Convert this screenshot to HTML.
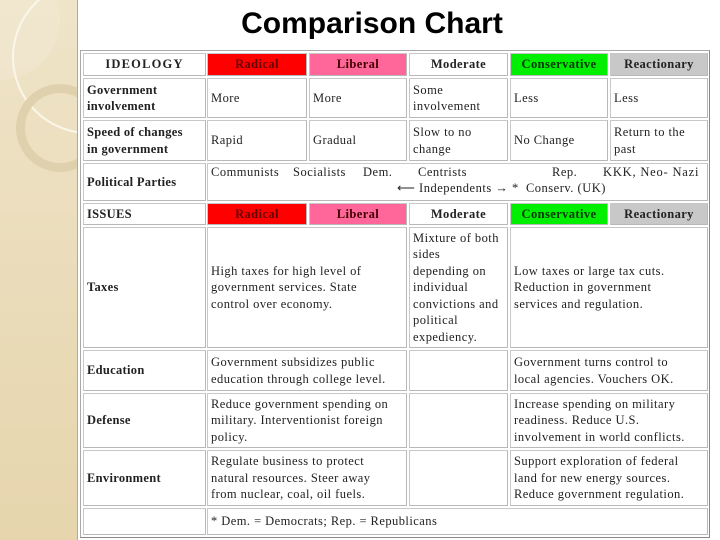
<!DOCTYPE html>
<html><head><meta charset="utf-8"><style>
body{margin:0;width:720px;height:540px;position:relative;background:#fff;overflow:hidden;font-family:"Liberation Serif",serif;}
#side{position:absolute;left:0;top:0;width:77px;height:540px;background:linear-gradient(#efe4c8,#e6d5ad);border-right:1px solid #b9a989;overflow:hidden}
.ring{position:absolute;border-radius:50%;}
#title{position:absolute;left:172px;top:7px;width:400px;text-align:center;font:bold 30px "Liberation Sans",sans-serif;color:#000}
#tbl{position:absolute;left:80px;top:50px;width:630px;height:488px;border:1px solid #aaa;border-right-color:#888;border-bottom-color:#888;box-sizing:border-box}
.c{position:absolute;box-sizing:border-box;border:1px solid #b8b8b8;border-top-color:#c8c8c8;border-left-color:#c8c8c8;font-size:12.5px;letter-spacing:0.45px;line-height:16.4px;padding:0 3px;color:#222;display:flex;align-items:center;background:#fff}
.b{font-weight:bold;letter-spacing:0.3px}
.h{justify-content:center;font-weight:bold;font-size:12.5px;letter-spacing:0.4px}
.p{position:absolute;white-space:pre;font-size:12.5px;letter-spacing:0.5px;color:#222;line-height:16px}
</style></head><body>
<div id="side">
<div class="ring" style="left:-60px;top:-40px;width:120px;height:120px;background:#f1e8d2;opacity:.6"></div>
<div class="ring" style="left:12px;top:-20px;width:150px;height:150px;border:2px solid #fbf6ea"></div>
<div class="ring" style="left:16px;top:84px;width:70px;height:70px;border:9px solid #e0d1ae"></div>
</div>
<div id="title">Comparison Chart</div>
<div id="tbl"></div>

<div class="c h" style="left:83px;top:53px;width:123px;height:23px;letter-spacing:1.2px">IDEOLOGY</div>
<div class="c h" style="left:207px;top:53px;width:100px;height:23px;background:#ff0000;color:#600">Radical</div>
<div class="c h" style="left:309px;top:53px;width:98px;height:23px;background:#ff6699;color:#400">Liberal</div>
<div class="c h" style="left:409px;top:53px;width:99px;height:23px">Moderate</div>
<div class="c h" style="left:510px;top:53px;width:98px;height:23px;background:#00ee00;color:#030">Conservative</div>
<div class="c h" style="left:610px;top:53px;width:98px;height:23px;background:#c8c8c8">Reactionary</div>

<div class="c b" style="left:83px;top:78px;width:123px;height:40px">Government<br>involvement</div>
<div class="c" style="left:207px;top:78px;width:100px;height:40px">More</div>
<div class="c" style="left:309px;top:78px;width:98px;height:40px">More</div>
<div class="c" style="left:409px;top:78px;width:99px;height:40px">Some<br>involvement</div>
<div class="c" style="left:510px;top:78px;width:98px;height:40px">Less</div>
<div class="c" style="left:610px;top:78px;width:98px;height:40px">Less</div>

<div class="c b" style="left:83px;top:120px;width:123px;height:41px">Speed of changes<br>in government</div>
<div class="c" style="left:207px;top:120px;width:100px;height:41px">Rapid</div>
<div class="c" style="left:309px;top:120px;width:98px;height:41px">Gradual</div>
<div class="c" style="left:409px;top:120px;width:99px;height:41px">Slow to no<br>change</div>
<div class="c" style="left:510px;top:120px;width:98px;height:41px">No Change</div>
<div class="c" style="left:610px;top:120px;width:98px;height:41px">Return to the<br>past</div>

<div class="c b" style="left:83px;top:163px;width:123px;height:38px">Political Parties</div>
<div class="c" style="left:207px;top:163px;width:501px;height:38px"></div>
<span class="p" style="left:211px;top:164px">Communists</span>
<span class="p" style="left:293px;top:164px">Socialists</span>
<span class="p" style="left:363px;top:164px">Dem.</span>
<span class="p" style="left:418px;top:164px">Centrists</span>
<span class="p" style="left:552px;top:164px">Rep.</span>
<span class="p" style="left:603px;top:164px;letter-spacing:0.8px">KKK, Neo- Nazi</span>
<span class="p" style="left:397px;top:180px">⟵ Independents → *  Conserv. (UK)</span>

<div class="c b" style="left:83px;top:203px;width:123px;height:22px">ISSUES</div>
<div class="c h" style="left:207px;top:203px;width:100px;height:22px;background:#ff0000;color:#600">Radical</div>
<div class="c h" style="left:309px;top:203px;width:98px;height:22px;background:#ff6699;color:#400">Liberal</div>
<div class="c h" style="left:409px;top:203px;width:99px;height:22px">Moderate</div>
<div class="c h" style="left:510px;top:203px;width:98px;height:22px;background:#00ee00;color:#030">Conservative</div>
<div class="c h" style="left:610px;top:203px;width:98px;height:22px;background:#c8c8c8">Reactionary</div>

<div class="c b" style="left:83px;top:227px;width:123px;height:121px">Taxes</div>
<div class="c" style="left:207px;top:227px;width:200px;height:121px">High taxes for high level of<br>government services. State<br>control over economy.</div>
<div class="c" style="left:409px;top:227px;width:99px;height:121px">Mixture of both<br>sides<br>depending on<br>individual<br>convictions and<br>political<br>expediency.</div>
<div class="c" style="left:510px;top:227px;width:198px;height:121px">Low taxes or large tax cuts.<br>Reduction in government<br>services and regulation.</div>

<div class="c b" style="left:83px;top:350px;width:123px;height:41px">Education</div>
<div class="c" style="left:207px;top:350px;width:200px;height:41px">Government subsidizes public<br>education through college level.</div>
<div class="c" style="left:409px;top:350px;width:99px;height:41px"></div>
<div class="c" style="left:510px;top:350px;width:198px;height:41px">Government turns control to<br>local agencies. Vouchers OK.</div>

<div class="c b" style="left:83px;top:393px;width:123px;height:55px">Defense</div>
<div class="c" style="left:207px;top:393px;width:200px;height:55px">Reduce government spending on<br>military. Interventionist foreign<br>policy.</div>
<div class="c" style="left:409px;top:393px;width:99px;height:55px"></div>
<div class="c" style="left:510px;top:393px;width:198px;height:55px">Increase spending on military<br>readiness. Reduce U.S.<br>involvement in world conflicts.</div>

<div class="c b" style="left:83px;top:450px;width:123px;height:56px">Environment</div>
<div class="c" style="left:207px;top:450px;width:200px;height:56px">Regulate business to protect<br>natural resources. Steer away<br>from nuclear, coal, oil fuels.</div>
<div class="c" style="left:409px;top:450px;width:99px;height:56px"></div>
<div class="c" style="left:510px;top:450px;width:198px;height:56px">Support exploration of federal<br>land for new energy sources.<br>Reduce government regulation.</div>

<div class="c" style="left:83px;top:508px;width:123px;height:27px"></div>
<div class="c" style="left:207px;top:508px;width:501px;height:27px">* Dem. = Democrats; Rep. = Republicans</div>
</body></html>
